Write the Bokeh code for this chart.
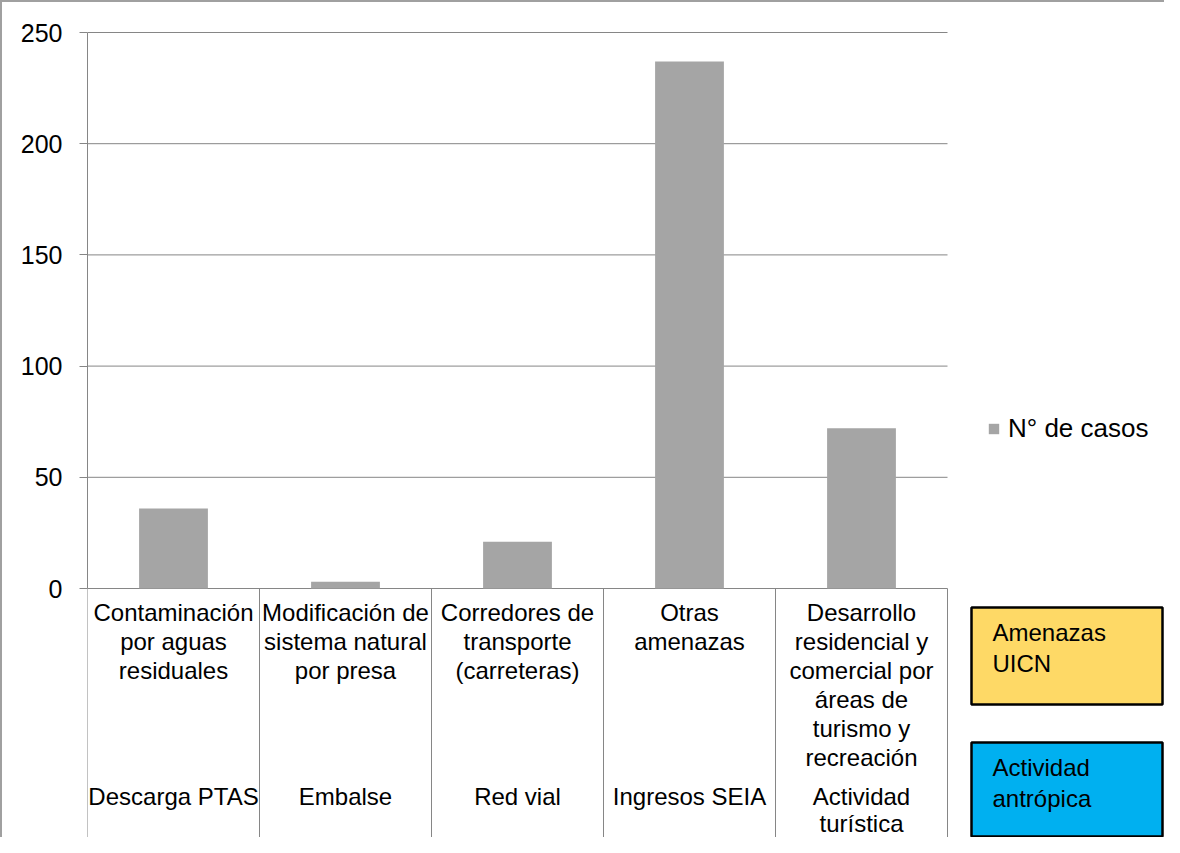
from bokeh.plotting import figure
from bokeh.models import Range1d, FixedTicker
from bokeh.core.properties import value
from bokeh.embed import file_html
from bokeh.resources import INLINE

# ---- data ----
categories = [
    "Contaminación\npor aguas\nresiduales",
    "Modificación de\nsistema natural\npor presa",
    "Corredores de\ntransporte\n(carreteras)",
    "Otras\namenazas",
    "Desarrollo\nresidencial y\ncomercial por\náreas de\nturismo y\nrecreación",
]
activities = ["Descarga PTAS", "Embalse", "Red vial", "Ingresos SEIA", "Actividad\nturística"]
casos = [36, 3, 21, 237, 72]
y_ticks = [0, 50, 100, 150, 200, 250]
series_name = "N° de casos"
box_labels = ["Amenazas\nUICN", "Actividad\nantrópica"]
box_colors = ["#FED966", "#00B0F0"]

# ---- layout constants (pixels) ----
W, H = 1164, 837
LEFT = 87            # frame left inside figure
CAT_PX = 172.0       # pixels per category
Y_PX = 2.224         # pixels per unit
ZERO_Y = 588         # figure y of value 0
FONT = "Liberation Sans"
GRAY = "#868686"

def dx(px):  # figure px -> data x
    return (px - LEFT) / CAT_PX

def dy(py):  # figure py -> data y
    return (ZERO_Y - py) / Y_PX

p = figure(width=W, height=H, output_backend="svg", toolbar_location=None,
           x_axis_location=None,
           x_range=Range1d(0, (W - LEFT) / CAT_PX),
           y_range=Range1d(dy(H), dy(0)),
           min_border_left=LEFT, min_border_right=0, min_border_top=0, min_border_bottom=0)
p.outline_line_color = None
p.xgrid.visible = False
p.ygrid.visible = False
p.background_fill_color = None
p.border_fill_color = None
# outer chart border (top and left edges; right/bottom fall outside the window)
p.styles = {"background-color": "white", "box-shadow": "inset 2px 2px 0 0 #A0A0A0"}

ax = p.yaxis[0]
ax.ticker = FixedTicker(ticks=y_ticks)
ax.bounds = (0, 250)
ax.axis_line_color = GRAY
ax.major_tick_line_color = GRAY
ax.major_tick_out = 8
ax.major_tick_in = 0
ax.minor_tick_line_color = None
ax.major_label_text_font = FONT
ax.major_label_text_font_size = "25px"
ax.major_label_text_color = "black"
ax.major_label_standoff = 17

n = len(casos)
xs = [i + 0.5 for i in range(n)]

# gridlines
p.segment(x0=[0] * len(y_ticks), x1=[n] * len(y_ticks), y0=y_ticks, y1=y_ticks,
          line_color=GRAY, line_width=1)
# category separators
sep_bottom = dy(838)
p.segment(x0=list(range(n + 1)), x1=list(range(n + 1)), y0=[0] * (n + 1), y1=[sep_bottom] * (n + 1),
          line_color=GRAY, line_width=1)

# bars
p.vbar(x=xs, top=casos, width=0.4, bottom=0, fill_color="#A5A5A5", line_color=None,
       legend_label=series_name)

# category labels
p.text(x=xs, y=[dy(598)] * n, text=categories, text_align="center", text_baseline="top",
       text_font=value(FONT), text_font_size="24px", text_color="black", text_line_height=1.08)
p.text(x=xs, y=[dy(782)] * n, text=activities, text_align="center", text_baseline="top",
       text_font=value(FONT), text_font_size="24px", text_color="black", text_line_height=1.0)

# right side boxes
box_tops = [607, 742]
box_bottoms = [704, 836]
p.quad(left=[dx(971)] * 2, right=[dx(1162)] * 2, top=[dy(t) for t in box_tops],
       bottom=[dy(b) for b in box_bottoms], fill_color=box_colors, line_color="black", line_width=2.5)
p.text(x=[dx(992)] * 2, y=[dy(t + 11) for t in box_tops], text=box_labels, text_align="left",
       text_baseline="top", text_font=value(FONT), text_font_size="24px", text_color="black",
       text_line_height=1.18)

# legend
lg = p.legend[0]
lg.location = (900, 393)
lg.glyph_width = 13
lg.glyph_height = 13
lg.label_standoff = 8
lg.label_text_font = FONT
lg.label_text_font_size = "26px"
lg.label_text_color = "black"
lg.padding = 0
lg.margin = 0
lg.spacing = 0
lg.border_line_color = None
lg.background_fill_alpha = 0

open("out.html", "w").write(file_html(p, INLINE))
